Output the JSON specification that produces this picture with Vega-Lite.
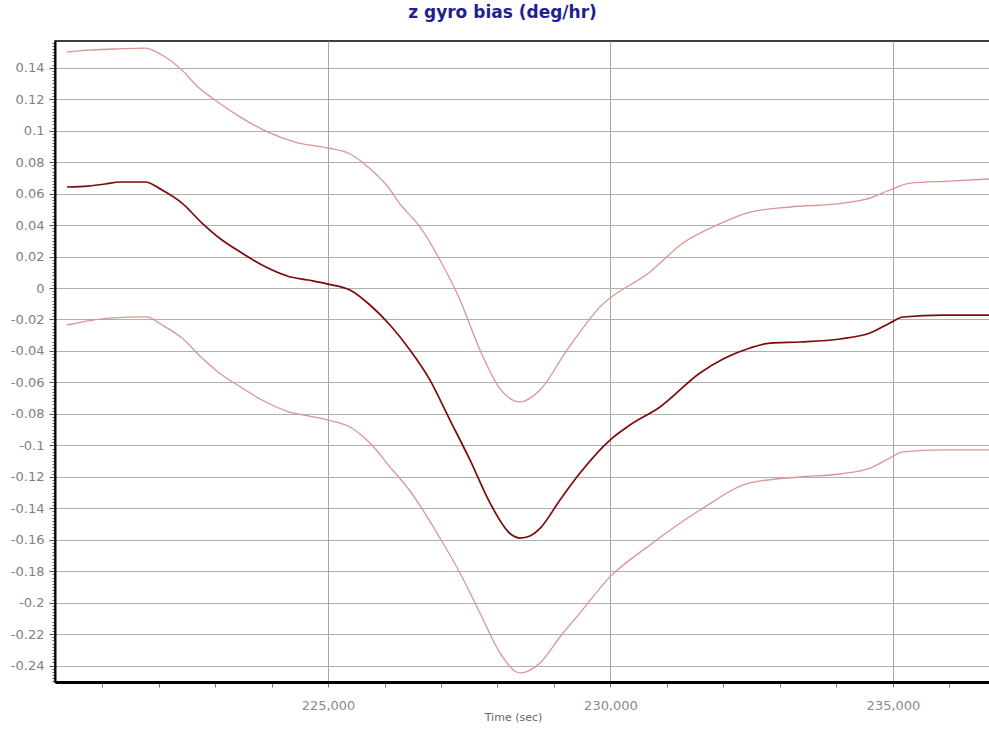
{
  "$schema": "https://vega.github.io/schema/vega-lite/v6.json",
  "autosize": {"type": "none"},
  "padding": {"left": 55, "top": 41, "right": 0, "bottom": 49},
  "width": 935,
  "height": 641,
  "background": "white",
  "title": {
    "text": "z gyro bias (deg/hr)",
    "font": "DejaVu Sans",
    "fontSize": 17,
    "fontWeight": "bold",
    "color": "#1f1f8f",
    "anchor": "middle",
    "frame": "group",
    "dx": -20,
    "baseline": "alphabetic",
    "offset": 2
  },
  "config": {
    "view": {"stroke": "#000000", "strokeWidth": 1.5},
    "axis": {"labelFont": "DejaVu Sans", "titleFont": "DejaVu Sans"}
  },
  "datasets": {
    "center": [
      {"t": 220380, "v": 0.0642}, {"t": 220752, "v": 0.0648}, {"t": 221053, "v": 0.0661},
      {"t": 221318, "v": 0.0674}, {"t": 221761, "v": 0.0674}, {"t": 222062, "v": 0.0623},
      {"t": 222416, "v": 0.054}, {"t": 222770, "v": 0.0413}, {"t": 223124, "v": 0.0305},
      {"t": 223478, "v": 0.0222}, {"t": 223832, "v": 0.0146}, {"t": 224292, "v": 0.0075},
      {"t": 224646, "v": 0.0051}, {"t": 225000, "v": 0.0025}, {"t": 225389, "v": -0.0013},
      {"t": 225743, "v": -0.0108}, {"t": 226097, "v": -0.0235}, {"t": 226451, "v": -0.0394},
      {"t": 226805, "v": -0.0585}, {"t": 227159, "v": -0.0839}, {"t": 227513, "v": -0.1093},
      {"t": 227867, "v": -0.1366}, {"t": 228221, "v": -0.156}, {"t": 228398, "v": -0.1589},
      {"t": 228575, "v": -0.1576}, {"t": 228752, "v": -0.1528}, {"t": 229106, "v": -0.1347},
      {"t": 229460, "v": -0.1176}, {"t": 229991, "v": -0.0966}, {"t": 230345, "v": -0.0871},
      {"t": 230876, "v": -0.0756}, {"t": 231584, "v": -0.054}, {"t": 232027, "v": -0.0445},
      {"t": 232469, "v": -0.0381}, {"t": 232823, "v": -0.035}, {"t": 233354, "v": -0.0343},
      {"t": 234062, "v": -0.0324}, {"t": 234593, "v": -0.0286}, {"t": 234947, "v": -0.0222},
      {"t": 235177, "v": -0.0184}, {"t": 235885, "v": -0.0172}, {"t": 236700, "v": -0.0172}
    ],
    "bounds": [
      {"s": "upper", "t": 220380, "v": 0.15}, {"s": "upper", "t": 220752, "v": 0.1512},
      {"s": "upper", "t": 221230, "v": 0.1519}, {"s": "upper", "t": 221761, "v": 0.1525},
      {"s": "upper", "t": 222062, "v": 0.1481}, {"s": "upper", "t": 222416, "v": 0.1385},
      {"s": "upper", "t": 222699, "v": 0.1277}, {"s": "upper", "t": 223000, "v": 0.1195},
      {"s": "upper", "t": 223478, "v": 0.108}, {"s": "upper", "t": 223938, "v": 0.0991},
      {"s": "upper", "t": 224416, "v": 0.0928}, {"s": "upper", "t": 225000, "v": 0.089},
      {"s": "upper", "t": 225354, "v": 0.0858}, {"s": "upper", "t": 225708, "v": 0.0769},
      {"s": "upper", "t": 226062, "v": 0.0642}, {"s": "upper", "t": 226274, "v": 0.0535},
      {"s": "upper", "t": 226628, "v": 0.0388}, {"s": "upper", "t": 226982, "v": 0.0178},
      {"s": "upper", "t": 227336, "v": -0.0076}, {"s": "upper", "t": 227690, "v": -0.0394},
      {"s": "upper", "t": 228044, "v": -0.064}, {"s": "upper", "t": 228398, "v": -0.0724},
      {"s": "upper", "t": 228752, "v": -0.0648}, {"s": "upper", "t": 229230, "v": -0.0394},
      {"s": "upper", "t": 229814, "v": -0.012}, {"s": "upper", "t": 230699, "v": 0.0102},
      {"s": "upper", "t": 231283, "v": 0.0286}, {"s": "upper", "t": 231885, "v": 0.04},
      {"s": "upper", "t": 232469, "v": 0.0483}, {"s": "upper", "t": 233177, "v": 0.0515},
      {"s": "upper", "t": 234115, "v": 0.054}, {"s": "upper", "t": 234593, "v": 0.0572},
      {"s": "upper", "t": 234947, "v": 0.0623}, {"s": "upper", "t": 235301, "v": 0.0667},
      {"s": "upper", "t": 236009, "v": 0.068}, {"s": "upper", "t": 236700, "v": 0.0693},
      {"s": "lower", "t": 220380, "v": -0.0235}, {"s": "lower", "t": 221141, "v": -0.0191},
      {"s": "lower", "t": 221796, "v": -0.0184}, {"s": "lower", "t": 222062, "v": -0.0235},
      {"s": "lower", "t": 222416, "v": -0.0318}, {"s": "lower", "t": 222770, "v": -0.0445},
      {"s": "lower", "t": 223124, "v": -0.0553}, {"s": "lower", "t": 223478, "v": -0.0635},
      {"s": "lower", "t": 223832, "v": -0.0712}, {"s": "lower", "t": 224292, "v": -0.0785},
      {"s": "lower", "t": 224646, "v": -0.0812}, {"s": "lower", "t": 225000, "v": -0.0839},
      {"s": "lower", "t": 225389, "v": -0.0883}, {"s": "lower", "t": 225743, "v": -0.0985},
      {"s": "lower", "t": 226097, "v": -0.1137}, {"s": "lower", "t": 226451, "v": -0.129},
      {"s": "lower", "t": 226982, "v": -0.1589}, {"s": "lower", "t": 227336, "v": -0.1811},
      {"s": "lower", "t": 227690, "v": -0.2065}, {"s": "lower", "t": 228044, "v": -0.2319},
      {"s": "lower", "t": 228398, "v": -0.2446}, {"s": "lower", "t": 228752, "v": -0.2383},
      {"s": "lower", "t": 229106, "v": -0.2218}, {"s": "lower", "t": 229460, "v": -0.2065},
      {"s": "lower", "t": 229991, "v": -0.1836}, {"s": "lower", "t": 230699, "v": -0.1633},
      {"s": "lower", "t": 231584, "v": -0.1411}, {"s": "lower", "t": 232469, "v": -0.1239},
      {"s": "lower", "t": 233354, "v": -0.1201}, {"s": "lower", "t": 234062, "v": -0.1182},
      {"s": "lower", "t": 234593, "v": -0.1144}, {"s": "lower", "t": 234947, "v": -0.108},
      {"s": "lower", "t": 235177, "v": -0.1042}, {"s": "lower", "t": 235885, "v": -0.1029},
      {"s": "lower", "t": 236700, "v": -0.1029}
    ]
  },
  "encoding": {
    "x": {
      "field": "t",
      "type": "quantitative",
      "scale": {"domain": [220168, 236717], "nice": false, "zero": false},
      "axis": {
        "title": "Time (sec)",
        "titleFontSize": 11,
        "titleFontWeight": "normal",
        "titleColor": "#666666",
        "titleX": 458,
        "titleY": 29,
        "titleBaseline": "top",
        "values": [221000, 222000, 223000, 224000, 225000, 226000, 227000, 228000, 229000, 230000, 231000, 232000, 233000, 234000, 235000, 236000],
        "labelExpr": "datum.value % 5000 === 0 ? format(datum.value, ',') : ''",
        "labelOverlap": false,
        "labelBound": false,
        "labelFontSize": 13,
        "labelColor": "#8a8a8a",
        "labelPadding": 12,
        "tickSize": 5,
        "tickColor": "#777777",
        "domainColor": "#000000",
        "domainWidth": 3,
        "grid": true,
        "gridColor": "#a8a8a8",
        "gridWidth": 1,
        "gridOpacity": {"condition": {"test": "datum.value % 5000 === 0", "value": 1}, "value": 0}
      }
    },
    "y": {
      "field": "v",
      "type": "quantitative",
      "scale": {"domain": [-0.2504, 0.157], "nice": false, "zero": false},
      "axis": {
        "title": null,
        "tickCount": 200,
        "labelExpr": "abs(datum.value * 50 - round(datum.value * 50)) < 0.000001 ? replace(format(datum.value, '~g'), '\u2212', '-') : ''",
        "labelOverlap": false,
        "labelBound": false,
        "labelFontSize": 13,
        "labelColor": "#808080",
        "labelPadding": 5,
        "tickSize": {"condition": {"test": "abs(datum.value * 50 - round(datum.value * 50)) < 0.000001", "value": 6}, "value": 3},
        "tickColor": "#555555",
        "domainColor": "#000000",
        "domainWidth": 2,
        "grid": true,
        "gridColor": "#b0b0b0",
        "gridWidth": 1,
        "gridOpacity": {"condition": {"test": "abs(datum.value * 50 - round(datum.value * 50)) < 0.000001", "value": 1}, "value": 0}
      }
    }
  },
  "layer": [
    {
      "data": {"name": "bounds"},
      "mark": {"type": "line", "color": "#dc9494", "strokeWidth": 1.3, "interpolate": "monotone"},
      "encoding": {"detail": {"field": "s", "type": "nominal"}}
    },
    {
      "data": {"name": "center"},
      "mark": {"type": "line", "color": "#7d0a0a", "strokeWidth": 1.7, "interpolate": "monotone"},
      "encoding": {}
    }
  ]
}
